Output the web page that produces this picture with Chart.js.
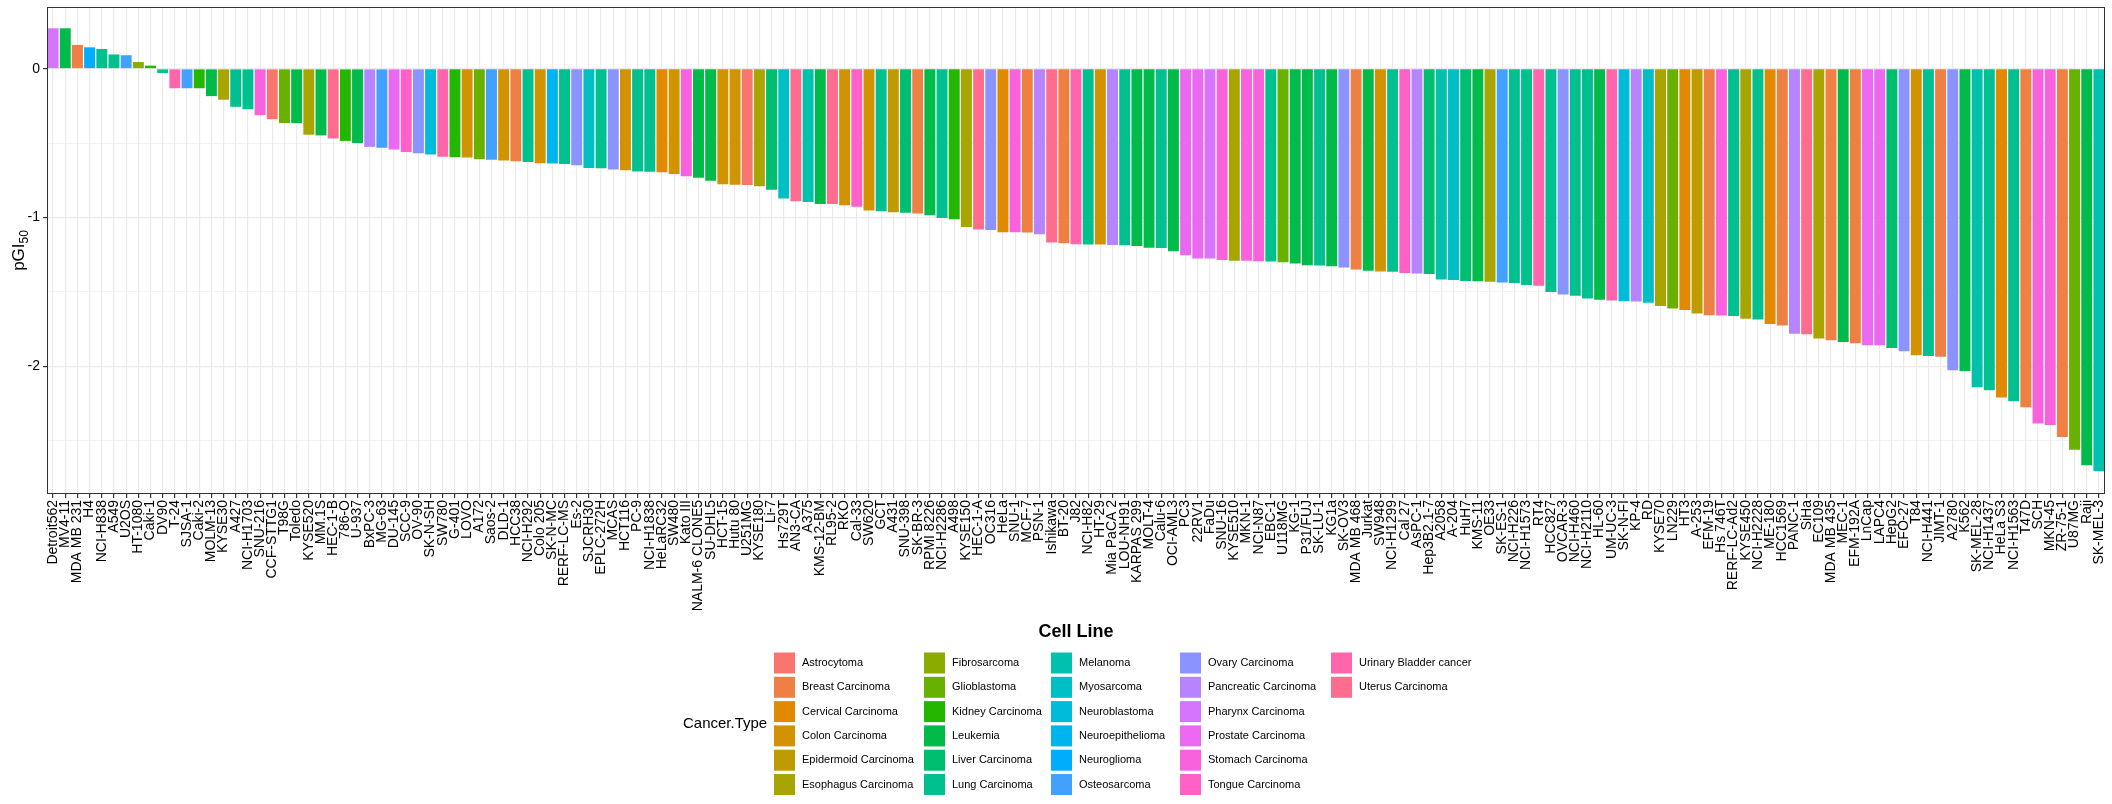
<!DOCTYPE html>
<html>
<head>
<meta charset="utf-8">
<script src="https://cdn.jsdelivr.net/npm/chart.js@4.4.1/dist/chart.umd.min.js"></script>
<style>
  html, body { margin: 0; padding: 0; background: #fff; }
  #chart { display: block; }
</style>
</head>
<body>
<canvas id="chart" width="2112" height="804"></canvas>
<script>
// cell lines, sorted by pGI50 (as in the figure)
const cellLines = ['Detroit562', 'MV4-11', 'MDA MB 231', 'H4', 'NCI-H838', 'A549', 'U2OS', 'HT-1080', 'Caki-1', 'DV90',
    'T-24', 'SJSA-1', 'Caki-2', 'MOLM-13', 'KYSE30', 'A427', 'NCI-H1703', 'SNU-216', 'CCF-STTG1', 'T98G',
    'Toledo', 'KYSE520', 'MM.1S', 'HEC-1-B', '786-O', 'U-937', 'BxPC-3', 'MG-63', 'DU-145', 'SCC-9',
    'OV-90', 'SK-N-SH', 'SW780', 'G-401', 'LOVO', 'A172', 'Saos-2', 'DLD-1', 'HCC38', 'NCI-H292',
    'Colo 205', 'SK-N-MC', 'RERF-LC-MS', 'Es-2', 'SJCRH30', 'EPLC-272H', 'MCAS', 'HCT116', 'PC-9', 'NCI-H1838',
    'HeLaRC32', 'SW480', 'Kato III', 'NALM-6 CLONE5', 'SU-DHL5', 'HCT-15', 'Hutu 80', 'U251MG', 'KYSE180', 'Li-7',
    'Hs729T', 'AN3-CA', 'A375', 'KMS-12-BM', 'RL95-2', 'RKO', 'Cal-33', 'SW620', 'GCT', 'A431',
    'SNU-398', 'SK-BR-3', 'RPMI 8226', 'NCI-H2286', 'A498', 'KYSE150', 'HEC-1-A', 'OC316', 'HeLa', 'SNU-1',
    'MCF-7', 'PSN-1', 'Ishikawa', 'BT-20', 'J82', 'NCI-H82', 'HT-29', 'Mia PaCA 2', 'LOU-NH91', 'KARPAS 299',
    'MOLT-4', 'Calu-6', 'OCI-AML3', 'PC3', '22RV1', 'FaDu', 'SNU-16', 'KYSE510', 'MKN-1', 'NCI-N87',
    'EBC-1', 'U118MG', 'KG-1', 'P31/FUJ', 'SK-LU-1', 'KG1a', 'SK-OV3', 'MDA MB 468', 'Jurkat', 'SW948',
    'NCI-H1299', 'Cal 27', 'AsPC-1', 'Hep3B2.1-7', 'A2058', 'A-204', 'HuH7', 'KMS-11', 'OE33', 'SK-ES-1',
    'NCI-H226', 'NCI-H1573', 'RT4', 'HCC827', 'OVCAR-3', 'NCI-H460', 'NCI-H2110', 'HL-60', 'UM-UC-3', 'SK-N-FI',
    'KP-4', 'RD', 'KYSE70', 'LN229', 'HT3', 'A-253', 'EFM-19', 'Hs 746T', 'RERF-LC-Ad2', 'KYSE450',
    'NCI-H2228', 'ME-180', 'HCC1569', 'PANC-1', 'SiHa', 'EC109', 'MDA MB 435', 'MEC-1', 'EFM-192A', 'LnCap',
    'LAPC4', 'HepG2', 'EFO-27', 'T84', 'NCI-H441', 'JIMT-1', 'A2780', 'K562', 'SK-MEL-28', 'NCI-H1437',
    'HeLa S3', 'NCI-H1563', 'T47D', 'SCH', 'MKN-45', 'ZR-75-1', 'U87MG', 'Raji', 'SK-MEL-3'];

const pgi50 = [0.272, 0.272, 0.16, 0.144, 0.133, 0.096, 0.091, 0.045, 0.021, -0.029,
    -0.131, -0.131, -0.131, -0.184, -0.208, -0.256, -0.272, -0.312, -0.339, -0.365,
    -0.365, -0.443, -0.448, -0.469, -0.485, -0.499, -0.525, -0.531, -0.543, -0.56,
    -0.568, -0.576, -0.592, -0.595, -0.597, -0.608, -0.611, -0.616, -0.621, -0.627,
    -0.635, -0.637, -0.64, -0.648, -0.667, -0.669, -0.677, -0.683, -0.691, -0.693,
    -0.696, -0.707, -0.723, -0.733, -0.752, -0.776, -0.779, -0.781, -0.789, -0.813,
    -0.872, -0.891, -0.896, -0.909, -0.909, -0.917, -0.928, -0.952, -0.957, -0.965,
    -0.968, -0.973, -0.984, -1.003, -1.011, -1.064, -1.08, -1.083, -1.099, -1.099,
    -1.101, -1.112, -1.168, -1.173, -1.179, -1.181, -1.181, -1.184, -1.187, -1.192,
    -1.203, -1.205, -1.227, -1.253, -1.275, -1.275, -1.285, -1.291, -1.291, -1.293,
    -1.296, -1.301, -1.309, -1.32, -1.323, -1.328, -1.336, -1.349, -1.357, -1.363,
    -1.365, -1.373, -1.376, -1.379, -1.416, -1.419, -1.427, -1.429, -1.432, -1.437,
    -1.44, -1.453, -1.459, -1.501, -1.517, -1.525, -1.544, -1.552, -1.557, -1.563,
    -1.565, -1.573, -1.595, -1.611, -1.621, -1.645, -1.656, -1.659, -1.661, -1.68,
    -1.685, -1.715, -1.725, -1.781, -1.784, -1.813, -1.824, -1.837, -1.845, -1.859,
    -1.859, -1.877, -1.899, -1.925, -1.931, -1.936, -2.027, -2.032, -2.14, -2.16,
    -2.21, -2.235, -2.275, -2.385, -2.395, -2.475, -2.56, -2.665, -2.705];

const cancerTypes = ['Astrocytoma', 'Breast Carcinoma', 'Cervical Carcinoma', 'Colon Carcinoma', 'Epidermoid Carcinoma',
    'Esophagus Carcinoma', 'Fibrosarcoma', 'Glioblastoma', 'Kidney Carcinoma', 'Leukemia', 'Liver Carcinoma',
    'Lung Carcinoma', 'Melanoma', 'Myosarcoma', 'Neuroblastoma', 'Neuroepithelioma', 'Neuroglioma', 'Osteosarcoma',
    'Ovary Carcinoma', 'Pancreatic Carcinoma', 'Pharynx Carcinoma', 'Prostate Carcinoma', 'Stomach Carcinoma',
    'Tongue Carcinoma', 'Urinary Bladder cancer', 'Uterus Carcinoma'];

// cancer type of each bar, same order as cellLines
const barType = ['Pharynx Carcinoma', 'Leukemia', 'Breast Carcinoma', 'Neuroglioma', 'Lung Carcinoma', 'Lung Carcinoma', 'Osteosarcoma', 'Fibrosarcoma', 'Kidney Carcinoma', 'Lung Carcinoma',
    'Urinary Bladder cancer', 'Osteosarcoma', 'Kidney Carcinoma', 'Leukemia', 'Esophagus Carcinoma', 'Lung Carcinoma', 'Lung Carcinoma', 'Stomach Carcinoma', 'Astrocytoma', 'Glioblastoma',
    'Leukemia', 'Esophagus Carcinoma', 'Leukemia', 'Uterus Carcinoma', 'Kidney Carcinoma', 'Leukemia', 'Pancreatic Carcinoma', 'Osteosarcoma', 'Prostate Carcinoma', 'Tongue Carcinoma',
    'Ovary Carcinoma', 'Neuroblastoma', 'Urinary Bladder cancer', 'Kidney Carcinoma', 'Colon Carcinoma', 'Glioblastoma', 'Osteosarcoma', 'Colon Carcinoma', 'Breast Carcinoma', 'Lung Carcinoma',
    'Colon Carcinoma', 'Neuroepithelioma', 'Lung Carcinoma', 'Ovary Carcinoma', 'Myosarcoma', 'Lung Carcinoma', 'Ovary Carcinoma', 'Colon Carcinoma', 'Lung Carcinoma', 'Lung Carcinoma',
    'Cervical Carcinoma', 'Colon Carcinoma', 'Stomach Carcinoma', 'Leukemia', 'Leukemia', 'Colon Carcinoma', 'Colon Carcinoma', 'Astrocytoma', 'Esophagus Carcinoma', 'Liver Carcinoma',
    'Myosarcoma', 'Uterus Carcinoma', 'Melanoma', 'Leukemia', 'Uterus Carcinoma', 'Colon Carcinoma', 'Tongue Carcinoma', 'Colon Carcinoma', 'Lung Carcinoma', 'Epidermoid Carcinoma',
    'Liver Carcinoma', 'Breast Carcinoma', 'Leukemia', 'Lung Carcinoma', 'Kidney Carcinoma', 'Esophagus Carcinoma', 'Uterus Carcinoma', 'Ovary Carcinoma', 'Cervical Carcinoma', 'Stomach Carcinoma',
    'Breast Carcinoma', 'Pancreatic Carcinoma', 'Uterus Carcinoma', 'Breast Carcinoma', 'Urinary Bladder cancer', 'Lung Carcinoma', 'Colon Carcinoma', 'Pancreatic Carcinoma', 'Lung Carcinoma', 'Leukemia',
    'Leukemia', 'Lung Carcinoma', 'Leukemia', 'Prostate Carcinoma', 'Prostate Carcinoma', 'Pharynx Carcinoma', 'Stomach Carcinoma', 'Esophagus Carcinoma', 'Stomach Carcinoma', 'Stomach Carcinoma',
    'Lung Carcinoma', 'Glioblastoma', 'Leukemia', 'Leukemia', 'Lung Carcinoma', 'Leukemia', 'Ovary Carcinoma', 'Breast Carcinoma', 'Leukemia', 'Colon Carcinoma',
    'Lung Carcinoma', 'Tongue Carcinoma', 'Pancreatic Carcinoma', 'Liver Carcinoma', 'Melanoma', 'Myosarcoma', 'Liver Carcinoma', 'Leukemia', 'Esophagus Carcinoma', 'Osteosarcoma',
    'Lung Carcinoma', 'Lung Carcinoma', 'Urinary Bladder cancer', 'Lung Carcinoma', 'Ovary Carcinoma', 'Lung Carcinoma', 'Lung Carcinoma', 'Leukemia', 'Urinary Bladder cancer', 'Neuroblastoma',
    'Pancreatic Carcinoma', 'Myosarcoma', 'Esophagus Carcinoma', 'Glioblastoma', 'Cervical Carcinoma', 'Epidermoid Carcinoma', 'Breast Carcinoma', 'Stomach Carcinoma', 'Lung Carcinoma', 'Esophagus Carcinoma',
    'Lung Carcinoma', 'Cervical Carcinoma', 'Breast Carcinoma', 'Pancreatic Carcinoma', 'Uterus Carcinoma', 'Esophagus Carcinoma', 'Breast Carcinoma', 'Leukemia', 'Breast Carcinoma', 'Prostate Carcinoma',
    'Prostate Carcinoma', 'Liver Carcinoma', 'Ovary Carcinoma', 'Colon Carcinoma', 'Lung Carcinoma', 'Breast Carcinoma', 'Ovary Carcinoma', 'Leukemia', 'Melanoma', 'Lung Carcinoma',
    'Cervical Carcinoma', 'Lung Carcinoma', 'Breast Carcinoma', 'Stomach Carcinoma', 'Stomach Carcinoma', 'Breast Carcinoma', 'Glioblastoma', 'Leukemia', 'Melanoma'];

const yTicks = [0, -1, -2];

// ggplot2 default hue palette (hcl, c = 100, l = 65)
function hcl(h, c, l) {
    const WY = 100, wu = 0.1978398, wv = 0.4683363;
    const hr = h * Math.PI / 180;
    const U = c * Math.cos(hr), V = c * Math.sin(hr);
    const Y = WY * Math.pow((l + 16) / 116, 3);
    const u = U / (13 * l) + wu, v = V / (13 * l) + wv;
    const X = 9 * Y * u / (4 * v);
    const Z = -X / 3 - 5 * Y + 3 * Y / v;
    const g = t => t > 0.00304 ? 1.055 * Math.pow(t, 1 / 2.4) - 0.055 : 12.92 * t;
    const ch = t => Math.round(255 * Math.min(1, Math.max(0, g(t))));
    const r = ch((3.240479 * X - 1.537150 * Y - 0.498535 * Z) / WY);
    const gg = ch((-0.969256 * X + 1.875992 * Y + 0.041556 * Z) / WY);
    const b = ch((0.055648 * X - 0.204043 * Y + 1.057311 * Z) / WY);
    return `rgb(${r}, ${gg}, ${b})`;
}
const typeColor = {};
cancerTypes.forEach((t, i) => {
    typeColor[t] = hcl((15 + i * 360 / cancerTypes.length) % 360, 100, 65);
});

const FONT = '"Liberation Sans", Arial, Helvetica, sans-serif';

const extras = {
    id: 'extras',
    afterDraw(chart) {
        const { ctx, chartArea: a } = chart;
        ctx.save();
        // panel border
        ctx.strokeStyle = '#333333';
        ctx.lineWidth = 1;
        ctx.strokeRect(a.left + 0.5, a.top + 0.5, a.right - a.left - 1, a.bottom - a.top - 1);

        // y title: pGI50
        ctx.fillStyle = '#000';
        ctx.textBaseline = 'alphabetic';
        ctx.translate(24, (a.top + a.bottom) / 2);
        ctx.rotate(-Math.PI / 2);
        ctx.font = `17px ${FONT}`;
        const w1 = ctx.measureText('pGI').width;
        ctx.font = `12px ${FONT}`;
        const w2 = ctx.measureText('50').width;
        const x0 = -(w1 + w2) / 2;
        ctx.font = `17px ${FONT}`;
        ctx.textAlign = 'left';
        ctx.fillText('pGI', x0, 0);
        ctx.font = `12px ${FONT}`;
        ctx.fillText('50', x0 + w1, 4);
        ctx.setTransform(1, 0, 0, 1, 0, 0);

        // x title
        ctx.font = `bold 18px ${FONT}`;
        ctx.textAlign = 'center';
        ctx.textBaseline = 'middle';
        ctx.fillText('Cell Line', (a.left + a.right) / 2, 632);

        // legend, filled column by column
        const rows = 6, key = 21, rowStep = 24.3, firstRow = 663;
        const colX = [774, 924, 1051, 1180, 1331];
        ctx.font = `15px ${FONT}`;
        ctx.textAlign = 'left';
        ctx.fillText('Cancer.Type', 683, firstRow + rowStep * 2.5);
        ctx.font = `11px ${FONT}`;
        cancerTypes.forEach((t, i) => {
            const x = colX[Math.floor(i / rows)];
            const cy = firstRow + (i % rows) * rowStep;
            ctx.fillStyle = typeColor[t];
            ctx.fillRect(x, cy - key / 2, key, key);
            ctx.fillStyle = '#000';
            ctx.fillText(t, x + key + 7, cy);
        });
        ctx.restore();
    }
};

new Chart(document.getElementById('chart').getContext('2d'), {
    type: 'bar',
    data: {
        labels: cellLines,
        datasets: [{
            data: pgi50,
            backgroundColor: barType.map(t => typeColor[t]),
            borderWidth: 0,
            barPercentage: 0.9,
            categoryPercentage: 1.0
        }]
    },
    options: {
        responsive: false,
        animation: false,
        layout: { padding: { left: 0, top: 7, right: 7, bottom: 0 } },
        plugins: { legend: { display: false }, tooltip: { enabled: false } },
        scales: {
            x: {
                grid: { offset: false, color: '#ebebeb', lineWidth: 1.2, tickLength: 4, tickColor: '#333333' },
                border: { display: false },
                ticks: {
                    autoSkip: false, minRotation: 90, maxRotation: 90, padding: 2,
                    color: '#000', font: { family: FONT, size: 14 }
                },
                afterFit: s => { s.height = 310; s.paddingLeft = 0; s.paddingRight = 0; }
            },
            y: {
                min: -2.858,
                max: 0.415,
                grid: {
                    color: '#ebebeb',
                    lineWidth: c => (c.tick && Number.isInteger(c.tick.value)) ? 1.2 : 0.6,
                    tickLength: 4,
                    tickColor: c => (c.tick && Number.isInteger(c.tick.value)) ? '#333333' : 'rgba(0,0,0,0)'
                },
                border: { display: false },
                ticks: {
                    stepSize: 0.5, includeBounds: false, padding: 3,
                    color: '#000', font: { family: FONT, size: 14 },
                    callback: v => yTicks.includes(v) ? String(v) : ''
                },
                afterFit: s => { s.width = 47; s.paddingTop = 0; s.paddingBottom = 0; }
            }
        }
    },
    plugins: [extras]
});
</script>
</body>
</html>
